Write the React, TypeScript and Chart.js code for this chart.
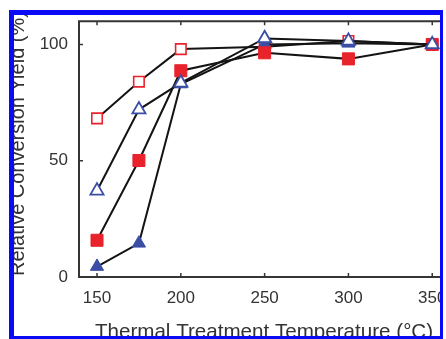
import React, { useEffect, useRef } from "react";
import { Chart, registerables } from "chart.js";

Chart.register(...registerables);

// ---- data ----
const temperatures = [150, 175, 200, 250, 300, 350];
const openSquares = [68.2, 84, 98, 99, 101.5, 100];
const filledSquares = [15.8, 50.1, 88.7, 96.4, 93.8, 100];
const openTriangles = [37.1, 72, 83.5, 102.6, 101.5, 100];
const filledTriangles = [4.5, 14.5, 83, 100, 100.5, 100];
const xTickValues = [150, 200, 250, 300, 350];
const yTickValues = [0, 50, 100];
const xTitle = "Thermal Treatment Temperature (°C)";
const yTitle = "Relative Conversion Yield (%)";

const RED = "#e8232b";
const BLUE = "#3a4ea6";
const LINE = "#141414";
const AXIS = "#353535";
const TEXT = "#333333";
const FONT = "'Liberation Sans', Arial, Helvetica, sans-serif";

const toPoints = (vals: number[]) => vals.map((v, i) => ({ x: temperatures[i], y: v }));

const framePlugin = {
  id: "frame",
  beforeDraw(chart: any) {
    const { ctx, width, height } = chart;
    ctx.save();
    ctx.fillStyle = "#ffffff";
    ctx.fillRect(0, 0, width, height);
    ctx.restore();
  },
  beforeDatasetsDraw(chart: any) {
    const { ctx, chartArea, scales } = chart;
    const { left, top, right, bottom } = chartArea;
    ctx.save();
    ctx.strokeStyle = AXIS;
    ctx.lineWidth = 2;
    ctx.beginPath();
    ctx.moveTo(right, top);
    ctx.lineTo(left, top);
    ctx.lineTo(left, bottom);
    ctx.lineTo(right, bottom);
    ctx.stroke();
    ctx.lineWidth = 1.5;
    ctx.beginPath();
    xTickValues.forEach((v) => {
      const px = scales.x.getPixelForValue(v);
      ctx.moveTo(px, bottom);
      ctx.lineTo(px, bottom - 4);
      ctx.moveTo(px, top);
      ctx.lineTo(px, top + 4);
    });
    yTickValues.forEach((v) => {
      const py = scales.y.getPixelForValue(v);
      ctx.moveTo(left, py);
      ctx.lineTo(left + 4, py);
    });
    ctx.stroke();
    ctx.restore();
  },
};

export default function App() {
  const ref = useRef<HTMLCanvasElement | null>(null);

  useEffect(() => {
    if (!ref.current) return;
    const common = {
      showLine: true,
      borderColor: LINE,
      borderWidth: 2,
      tension: 0,
      fill: false,
    };
    const chart = new Chart(ref.current, {
      type: "line",
      data: {
        datasets: [
          {
            ...common,
            label: "open triangles",
            data: toPoints(openTriangles),
            pointStyle: "triangle",
            pointRadius: 7.6,
            pointBackgroundColor: "#ffffff",
            pointBorderColor: BLUE,
            pointBorderWidth: 1.8,
          },
          {
            ...common,
            label: "filled squares",
            data: toPoints(filledSquares),
            pointStyle: "rect",
            pointRadius: 8.5,
            pointBackgroundColor: RED,
            pointBorderColor: RED,
            pointBorderWidth: 1,
          },
          {
            ...common,
            label: "filled triangles",
            data: toPoints(filledTriangles),
            pointStyle: "triangle",
            pointRadius: 7.6,
            pointBackgroundColor: BLUE,
            pointBorderColor: BLUE,
            pointBorderWidth: 1,
          },
          {
            ...common,
            label: "open squares",
            data: toPoints(openSquares),
            pointStyle: "rect",
            pointRadius: 7.4,
            pointBackgroundColor: "#ffffff",
            pointBorderColor: RED,
            pointBorderWidth: 1.6,
          },
        ] as any,
      },
      options: {
        animation: false,
        responsive: false,
        devicePixelRatio: 1,
        events: [],
        layout: { padding: { left: 0, top: 19, right: 21, bottom: 0 } },
        plugins: {
          legend: { display: false },
          tooltip: { enabled: false },
        },
        scales: {
          x: {
            type: "linear",
            min: 139.25,
            max: 360,
            grid: { display: false, drawTicks: false },
            border: { display: false },
            afterBuildTicks: (s: any) => {
              s.ticks = xTickValues.map((v) => ({ value: v }));
            },
            afterFit: (s: any) => {
              s.height = 83;
            },
            ticks: {
              padding: 11,
              color: TEXT,
              font: { family: FONT, size: 17 },
              maxRotation: 0,
              autoSkip: false,
            },
            title: {
              display: true,
              text: xTitle,
              color: TEXT,
              font: { family: FONT, size: 20.6 },
              padding: { top: 0, bottom: 15 },
            },
          },
          y: {
            type: "linear",
            min: 0,
            max: 110,
            grid: { display: false, drawTicks: false },
            border: { display: false },
            afterBuildTicks: (s: any) => {
              s.ticks = yTickValues.map((v) => ({ value: v }));
            },
            afterFit: (s: any) => {
              s.width = 79;
            },
            ticks: {
              padding: 11,
              color: TEXT,
              font: { family: FONT, size: 17 },
              autoSkip: false,
            },
            title: {
              display: true,
              text: "  " + yTitle,
              color: TEXT,
              font: { family: FONT, size: 20 },
              padding: { top: 6, bottom: 0 },
            },
          },
        },
      } as any,
      plugins: [framePlugin],
    });
    return () => chart.destroy();
  }, []);

  return (
    <div
      style={{
        position: "fixed",
        left: 0,
        top: 0,
        width: 446,
        height: 339,
        background: "#ffffff",
        overflow: "hidden",
      }}
    >
      <div
        style={{
          position: "absolute",
          left: 14,
          top: 15,
          width: 426,
          height: 321,
          overflow: "hidden",
        }}
      >
        <div style={{ position: "absolute", left: -14, top: -15, width: 470, height: 360 }}>
          <canvas ref={ref} width={470} height={360} style={{ width: 470, height: 360, display: "block" }} />
        </div>
      </div>
      <div
        style={{
          position: "absolute",
          left: 9,
          top: 10,
          width: 434,
          height: 329,
          boxSizing: "border-box",
          borderStyle: "solid",
          borderColor: "#0a0af5",
          borderWidth: "5px 3px 3px 5px",
          pointerEvents: "none",
        }}
      />
    </div>
  );
}
